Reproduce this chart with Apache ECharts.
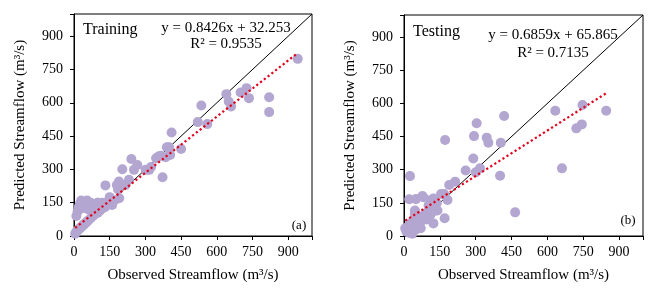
<!DOCTYPE html>
<html><head><meta charset="utf-8">
<script src="https://cdn.jsdelivr.net/npm/echarts@6/dist/echarts.min.js"></script>
<style>html,body{margin:0;padding:0;background:#fff}#c{width:661px;height:295px}</style>
</head><body><div id="c"></div>
<script>
// ---- Data ----
const trainObserved = [940,820,820,735,725,700,640,650,660,535,520,560,410,450,400,404,372,345,355,365,385,390,316,324,301,266,252,241,203,231,217,189,
  132,180,185,190,170,160,150,120,100,
  5,10,15,20,25,30,35,40,45,50,55,60,70,80,90,100,110,120,130,140,
  10,15,20,25,30,40,50,55,70,80,90,35,60,100];
const trainPredicted = [798,625,558,621,666,646,639,606,583,588,513,504,466,392,400,365,265,350,358,362,355,400,298,311,298,320,298,347,301,253,230,245,
  228,230,210,170,160,140,175,150,150,
  10,20,25,30,35,40,45,50,55,60,65,70,80,90,100,105,115,125,130,140,
  90,110,130,145,160,150,130,160,150,135,140,125,120,150];
const testObserved = [846,747,744,721,633,661,419,465,304,293,346,353,405,402,290,258,300,318,172,214,189,168,182,170,123,25,22,50,81,112,123,103,131,137,77,46,90,60,100,140,75,110,5,10,15,20,25,30,35,40,50,55,65,70,85,95,120,60,45,155,35];
const testPredicted = [567,593,505,487,567,306,543,107,510,452,445,422,422,273,351,296,288,306,434,246,231,190,163,80,57,271,166,167,175,163,170,139,125,148,181,115,100,90,110,115,70,95,35,20,40,15,55,30,65,45,30,60,50,35,80,75,110,80,100,190,10];
const trainFit = {slope: 0.8426, intercept: 32.253, r2: '0.9535'};
const testFit = {slope: 0.6859, intercept: 65.865, r2: '0.7135'};
const axisTicks = [0,150,300,450,600,750,900];
const axisMax = 1000;
const panelTitles = ['Training','Testing'];
const panelTags = ['(a)','(b)'];
const xTitle = 'Observed Streamflow (m³/s)';
const yTitle = 'Predicted Streamflow (m³/s)';

// ---- Build ----
const FONT = '"Liberation Serif","Times New Roman",serif';
const pts = (xs, ys) => xs.map((x,i)=>[x, ys[i]]);
const fitLine = (xs, f) => { const lo=Math.min(...xs), hi=Math.max(...xs); return [[lo, f.slope*lo+f.intercept],[hi, f.slope*hi+f.intercept]]; };
const fmtEq = f => 'y = ' + f.slope.toFixed(4) + 'x + ' + f.intercept.toFixed(3);

const grids = [
  {left:74, top:14, width:238, height:222},
  {left:404, top:15, width:239, height:221}
];
function axisX(i){return {gridIndex:i,type:'value',min:0,max:axisMax,interval:150,
  axisLine:{show:true,onZero:false,lineStyle:{color:'#000',width:1}},
  axisTick:{show:true,inside:false,length:4,lineStyle:{color:'#000'}},
  axisLabel:{show:true,margin:9,color:'#000',fontFamily:FONT,fontSize:14,
    formatter:v=>axisTicks.includes(v)?String(v):''},
  splitLine:{show:false},
  name:xTitle,nameLocation:'middle',nameGap:32,nameTextStyle:{color:'#000',fontFamily:FONT,fontSize:15}};}
function axisY(i){return {gridIndex:i,type:'value',min:0,max:axisMax,interval:150,
  axisLine:{show:true,onZero:false,lineStyle:{color:'#000',width:1}},
  axisTick:{show:true,inside:false,length:4,lineStyle:{color:'#000'}},
  axisLabel:{show:true,margin:11,color:'#000',fontFamily:FONT,fontSize:14,
    formatter:v=>axisTicks.includes(v)?String(v):''},
  splitLine:{show:false},
  name:yTitle,nameLocation:'middle',nameGap:46,nameTextStyle:{color:'#000',fontFamily:FONT,fontSize:15}};}

function panelSeries(i, xs, ys, f){
  return [
    {type:'line',xAxisIndex:i,yAxisIndex:i,data:[[0,0],[axisMax,axisMax]],symbol:'none',z:1,
     lineStyle:{color:'#000',width:1},silent:true},
    {type:'scatter',xAxisIndex:i,yAxisIndex:i,data:pts(xs,ys),symbol:'circle',symbolSize:10,z:2,
     itemStyle:{color:'#b3a6d0',opacity:1}},
    {type:'line',xAxisIndex:i,yAxisIndex:i,data:fitLine(xs,f),symbol:'none',z:3,
     lineStyle:{color:'#e3001b',width:2.2,type:[2.2,2.6],cap:'butt'},silent:true}
  ];
}
const txt = (x,y,t,size,align) => ({type:'text',x:x,y:y,style:{text:t,fill:'#000',font:size+'px '+FONT,textAlign:align||'left',textVerticalAlign:'middle'}});

const chart = echarts.init(document.getElementById('c'),null,{renderer:'canvas'});
chart.setOption({
  animation:false,
  backgroundColor:'#fff',
  grid:grids.map(g=>Object.assign({show:true,borderColor:'#000',borderWidth:1,backgroundColor:'transparent'},g)),
  xAxis:[axisX(0),axisX(1)],
  yAxis:[axisY(0),axisY(1)],
  series:[...panelSeries(0,trainObserved,trainPredicted,trainFit),...panelSeries(1,testObserved,testPredicted,testFit)],
  graphic:[
    txt(83,30,panelTitles[0],16),
    txt(226,28,fmtEq(trainFit),15,'center'),
    txt(226,44,'R² = '+trainFit.r2,15,'center'),
    txt(299,226,panelTags[0],13,'center'),
    txt(413,32,panelTitles[1],16),
    txt(553,35,fmtEq(testFit),15,'center'),
    txt(553,53,'R² = '+testFit.r2,15,'center'),
    txt(628,221,panelTags[1],13,'center')
  ]
});
</script></body></html>
